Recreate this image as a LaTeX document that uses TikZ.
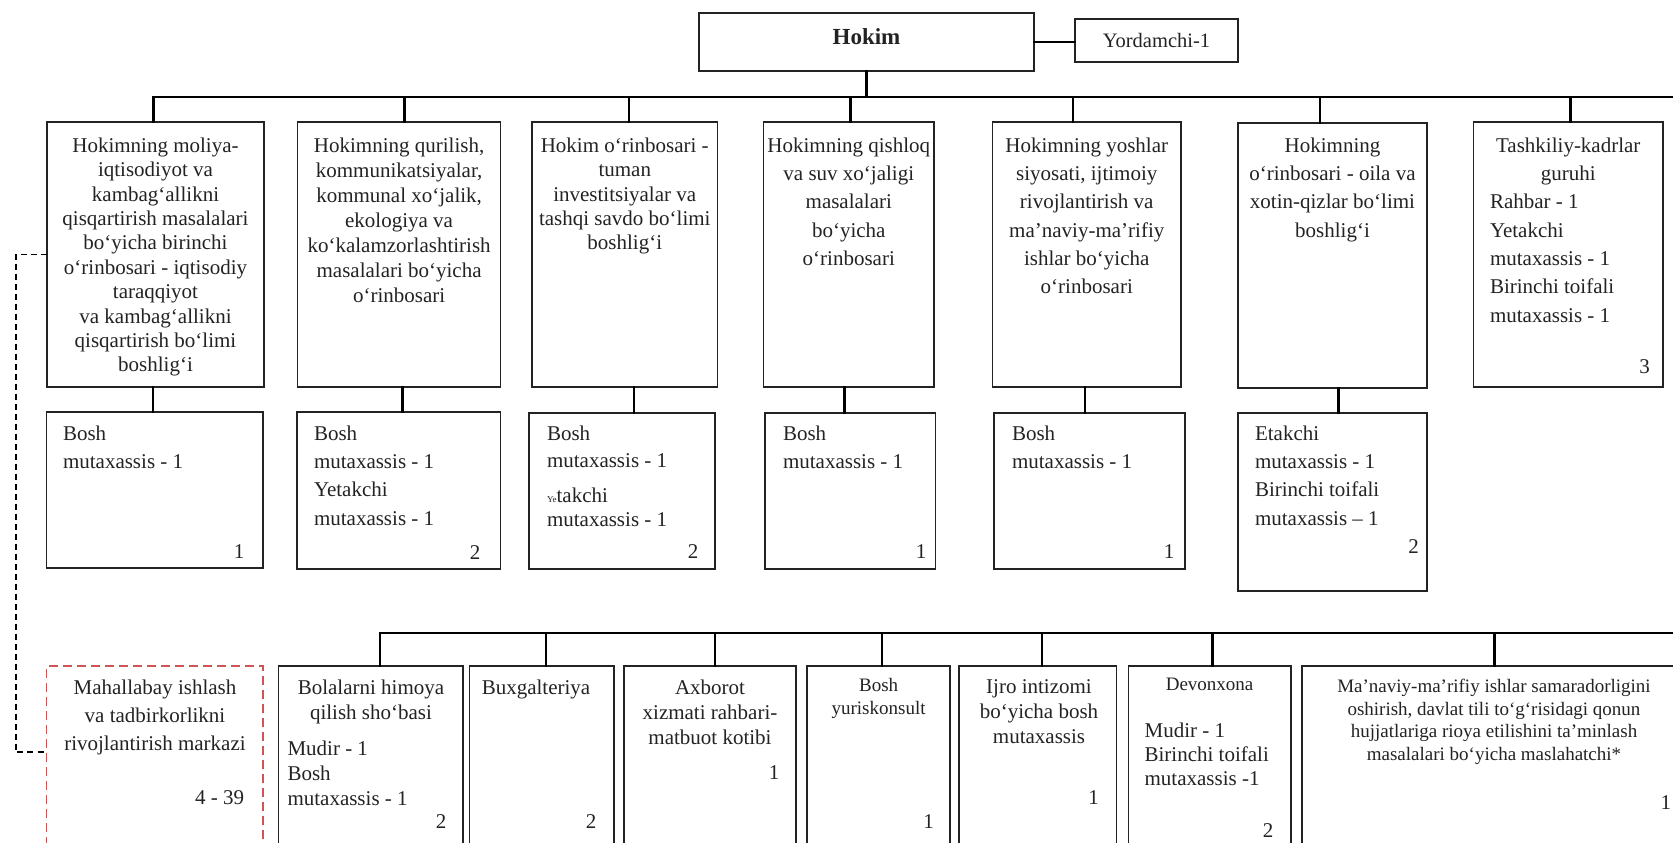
\documentclass[tikz,border=0pt]{standalone}
\usepackage{fontspec}
\setmainfont{Liberation Serif}
\definecolor{dred}{RGB}{205,85,85}
\definecolor{bline}{RGB}{35,35,35}
\newcommand\fa{\fontsize{21}{24.4}\selectfont}
\newcommand\fb{\fontsize{21}{28.3}\selectfont}
\newcommand\fc{\fontsize{21}{25}\selectfont}
\newcommand\fs{\fontsize{19}{22.5}\selectfont}
\begin{document}
\begin{tikzpicture}[x=1pt,y=-1pt,
  box/.style={draw=bline, line width=1.4pt, inner sep=0pt, outer sep=0pt, anchor=north west},
  conn/.style={draw=black, line width=2.8pt, line cap=rect},
  ctext/.style={inner sep=0pt, outer sep=0pt, align=center, anchor=north, text=bline},
  ltext/.style={inner sep=0pt, outer sep=0pt, align=left, anchor=north west, text=bline},
  num/.style={inner sep=0pt, outer sep=0pt, anchor=center, font=\fa, text=bline},
  dbox/.style={draw=dred, line width=1.3pt, dash pattern=on 9pt off 5pt, inner sep=0pt, outer sep=0pt, anchor=north west},
  dconn/.style={draw=black, line width=1.4pt, dash pattern=on 6pt off 4pt}
]
\useasboundingbox (0,0) rectangle (1673,843);
\fill[white] (0,0) rectangle (1673,843);
\clip (0,0) rectangle (1673,843);

% ---------- top ----------
\node[box, minimum width=335pt, minimum height=58pt] (hokim) at (699,13) {};
\node[inner sep=0pt, font=\bfseries\fontsize{23}{23}\selectfont, text=bline] (hokimt) at (866.5,37) {Hokim};
\node[box, minimum width=163pt, minimum height=43pt] (yord) at (1075,19) {};
\node[inner sep=0pt, font=\fontsize{20.5}{24}\selectfont, text=bline] (yordt) at (yord.center) {Yordamchi-1};
\draw[conn] (hokim.east) -- (hokim.east -| yord.west);

% ---------- row 1 ----------
\node[box, minimum width=217pt,   minimum height=265pt] (b1) at (47,122) {};
\node[box, minimum width=203.2pt, minimum height=265pt] (b2) at (297.5,122) {};
\node[box, minimum width=185.5pt, minimum height=265pt] (b3) at (532,122) {};
\node[box, minimum width=170.4pt, minimum height=265pt] (b4) at (763.6,122) {};
\node[box, minimum width=188.5pt, minimum height=265pt] (b5) at (992.5,122) {};
\node[box, minimum width=189pt,   minimum height=265pt] (b6) at (1238,123) {};
\node[box, minimum width=189.5pt, minimum height=265pt] (b7) at (1473.5,122) {};

\node[ctext, font=\fa] (b1t) at ([yshift=-15.7pt]b1.north) {Hokimning moliya-\\iqtisodiyot va\\kambag‘allikni\\qisqartirish masalalari\\bo‘yicha birinchi\\o‘rinbosari - iqtisodiy\\taraqqiyot\\ va kambag‘allikni\\qisqartirish bo‘limi\\boshlig‘i};
\node[ctext, font=\fc] (b2t) at ([yshift=-15.7pt]b2.north) {Hokimning qurilish,\\kommunikatsiyalar,\\kommunal xo‘jalik,\\ekologiya va\\ko‘kalamzorlashtirish\\masalalari bo‘yicha\\o‘rinbosari};
\node[ctext, font=\fa] (b3t) at ([yshift=-15.7pt]b3.north) {Hokim o‘rinbosari -\\tuman\\investitsiyalar va\\tashqi savdo bo‘limi\\boshlig‘i};
\node[ctext, font=\fb] (b4t) at ([yshift=-15.7pt]b4.north) {Hokimning qishloq\\va suv xo‘jaligi\\masalalari\\bo‘yicha\\o‘rinbosari};
\node[ctext, font=\fb] (b5t) at ([yshift=-15.7pt]b5.north) {Hokimning yoshlar\\siyosati, ijtimoiy\\rivojlantirish va\\ma’naviy-ma’rifiy\\ishlar bo‘yicha\\o‘rinbosari};
\node[ctext, font=\fb] (b6t) at ([yshift=-14.7pt]b6.north) {Hokimning\\o‘rinbosari - oila va\\xotin-qizlar bo‘limi\\boshlig‘i};
\node[ctext, font=\fb] (b7t) at ([yshift=-15.7pt]b7.north) {Tashkiliy-kadrlar\\guruhi};
\node[ltext, font=\fb] (b7l) at (1490,194.4) {Rahbar - 1\\Yetakchi\\mutaxassis - 1\\Birinchi toifali\\mutaxassis - 1};
\node[num] (b7n) at (1644.6,367) {3};

% top bar and drops
\coordinate (hb) at (0,97);
\coordinate (hbe) at (1690,97);
\draw[conn] (hokim.south) -- (hokim.south |- hb);
\coordinate (t1) at ([xshift=-2pt]b1.north);
\coordinate (t2) at ([xshift=5.6pt]b2.north);
\coordinate (t3) at ([xshift=4.3pt]b3.north);
\coordinate (t4) at ([xshift=1.7pt]b4.north);
\coordinate (t5) at ([xshift=-13.7pt]b5.north);
\coordinate (t6) at ([xshift=-12.5pt]b6.north);
\coordinate (t7) at ([xshift=2pt]b7.north);
\draw[conn] (t1 |- hb) -- (hbe);
\foreach \t in {t1,t2,t3,t4,t5,t6,t7} {\draw[conn] (\t |- hb) -- (\t);}

% ---------- row 2 ----------
\node[box, minimum width=216.6pt, minimum height=156pt] (r1) at (46.4,412) {};
\node[box, minimum width=203.7pt, minimum height=157pt] (r2) at (297,412) {};
\node[box, minimum width=186pt,   minimum height=156pt] (r3) at (529,413) {};
\node[box, minimum width=170.7pt, minimum height=156pt] (r4) at (765,413) {};
\node[box, minimum width=191pt,   minimum height=156pt] (r5) at (994,413) {};
\node[box, minimum width=189pt,   minimum height=178pt] (r6) at (1238,413) {};

\coordinate (u1) at ([xshift=-2.5pt]b1.south);
\coordinate (u2) at ([xshift=3pt]b2.south);
\coordinate (u3) at ([xshift=9.3pt]b3.south);
\coordinate (u4) at ([xshift=-4.4pt]b4.south);
\coordinate (u5) at ([xshift=-1.7pt]b5.south);
\coordinate (u6) at ([xshift=6.2pt]b6.south);
\draw[conn] (u1) -- (u1 |- r1.north);
\draw[conn] (u2) -- (u2 |- r2.north);
\draw[conn] (u3) -- (u3 |- r3.north);
\draw[conn] (u4) -- (u4 |- r4.north);
\draw[conn] (u5) -- (u5 |- r5.north);
\draw[conn] (u6) -- (u6 |- r6.north);

\node[ltext, font=\fb] (r1t) at (63,425.7) {Bosh\\mutaxassis - 1};
\node[num] (r1n) at (239,552) {1};
\node[ltext, font=\fb] (r2t) at (314,425.7) {Bosh\\mutaxassis - 1\\Yetakchi\\mutaxassis - 1};
\node[num] (r2n) at (475,553) {2};
\node[ltext, font=\fontsize{21}{27}\selectfont] (r3t) at (547,425.7) {Bosh\\mutaxassis - 1};
\node[ltext, font=\fontsize{21}{24}\selectfont] (r3u) at (547,487.7) {{\fontsize{9}{9}\selectfont Ye}takchi\\mutaxassis - 1};
\node[num] (r3n) at (693,552) {2};
\node[ltext, font=\fb] (r4t) at (783,425.7) {Bosh\\mutaxassis - 1};
\node[num] (r4n) at (921,552) {1};
\node[ltext, font=\fb] (r5t) at (1012,425.7) {Bosh\\mutaxassis - 1};
\node[num] (r5n) at (1169,552) {1};
\node[ltext, font=\fb] (r6t) at (1255,425.7) {Etakchi\\mutaxassis - 1\\Birinchi toifali\\mutaxassis – 1};
\node[num] (r6n) at (1413.6,547) {2};

% ---------- row 3 ----------
\node[dbox, minimum width=216.6pt, minimum height=250pt] (mz) at (46.4,666) {};
\node[box, minimum width=184.4pt, minimum height=250pt] (c1) at (278.6,666) {};
\node[box, minimum width=144.4pt, minimum height=250pt] (c2) at (469.6,666) {};
\node[box, minimum width=172pt,   minimum height=250pt] (c3) at (624,666) {};
\node[box, minimum width=143pt,   minimum height=250pt] (c4) at (807,666) {};
\node[box, minimum width=157.4pt, minimum height=250pt] (c5) at (959,666) {};
\node[box, minimum width=162.5pt, minimum height=250pt] (c6) at (1128.5,666) {};
\node[box, minimum width=384pt,   minimum height=250pt] (c7) at (1301.8,666) {};

\coordinate (lb) at (0,633);
\coordinate (lbe) at (1690,633);
\coordinate (v1) at ([xshift=9.2pt]c1.north);
\coordinate (v2) at ([xshift=4.2pt]c2.north);
\coordinate (v3) at ([xshift=5pt]c3.north);
\coordinate (v4) at ([xshift=3.5pt]c4.north);
\coordinate (v5) at ([xshift=4.3pt]c5.north);
\coordinate (v6) at ([xshift=2.8pt]c6.north);
\coordinate (v7) at ([xshift=1pt]c7.north);
\draw[conn] (v1 |- lb) -- (lbe);
\foreach \v in {v1,v2,v3,v4,v5,v6,v7} {\draw[conn] (\v |- lb) -- (\v);}

% dashed link
\coordinate (dl) at (16,752);
\draw[dconn] (b1.west) -| (dl) -- (dl -| mz.west);

\node[ctext, font=\fb] (mzt) at (155,679.7) {Mahallabay ishlash\\va tadbirkorlikni\\rivojlantirish markazi};
\node[num] (mzn) at (219.6,798) {4 - 39};

\node[ctext, font=\fc] (c1t) at (371,679.7) {Bolalarni himoya\\qilish sho‘basi};
\node[ltext, font=\fc] (c1l) at (287.5,740.7) {Mudir - 1\\Bosh\\mutaxassis - 1};
\node[num] (c1n) at (441,822) {2};

\node[ctext, font=\fc] (c2t) at (536,679.7) {Buxgalteriya};
\node[num] (c2n) at (591,822) {2};

\node[ctext, font=\fc] (c3t) at (710,679.7) {Axborot\\xizmati rahbari-\\matbuot kotibi};
\node[num] (c3n) at (774,773) {1};

\node[ctext, font=\fontsize{19}{23}\selectfont] (c4t) at (878.6,678.4) {Bosh\\yuriskonsult};
\node[num] (c4n) at (928.6,822) {1};

\node[ctext, font=\fc] (c5t) at (1039,679.7) {Ijro intizomi\\bo‘yicha bosh\\mutaxassis};
\node[num] (c5n) at (1093.6,798) {1};

\node[ctext, font=\fs] (c6t) at (1209.6,678.4) {Devonxona};
\node[ltext, font=\fontsize{21}{24}\selectfont] (c6l) at (1144.6,722.7) {Mudir - 1\\Birinchi toifali\\mutaxassis -1};
\node[num] (c6n) at (1268,831) {2};

\node[ctext, font=\fs] (c7t) at (1494,679.4) {Ma’naviy-ma’rifiy ishlar samaradorligini\\oshirish, davlat tili to‘g‘risidagi qonun\\hujjatlariga rioya etilishini ta’minlash\\masalalari bo‘yicha maslahatchi*};
\node[num] (c7n) at (1665.8,803) {1};
\end{tikzpicture}
\end{document}
